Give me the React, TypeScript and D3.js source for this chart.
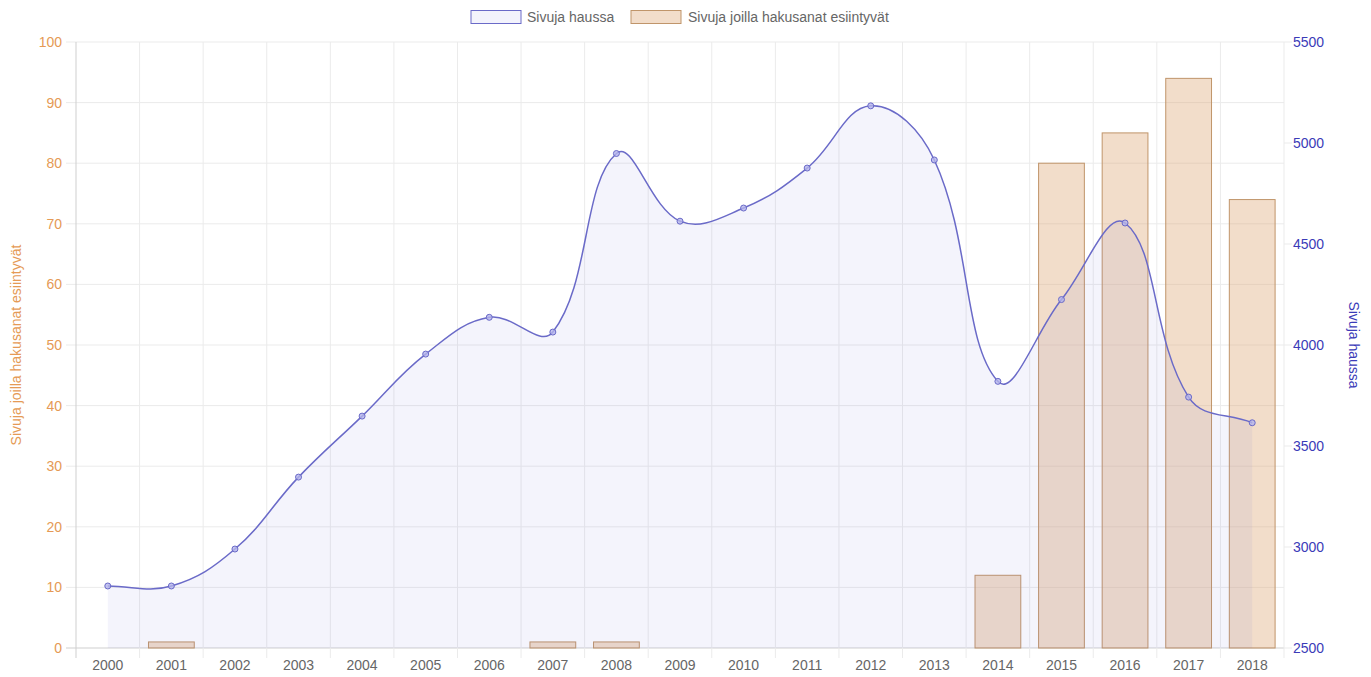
import React from 'react';
import * as d3 from 'd3';

const years = ['2000','2001','2002','2003','2004','2005','2006','2007','2008','2009','2010','2011','2012','2013','2014','2015','2016','2017','2018'];
const pagesInSearch = [2807, 2807, 2990, 3346, 3648, 3955, 4137, 4064, 4948, 4613, 4678, 4876, 5184, 4916, 3820, 4225, 4604, 3742, 3615];
const pagesWithTerms = [0, 1, 0, 0, 0, 0, 0, 1, 1, 0, 0, 0, 0, 0, 12, 80, 85, 94, 74];
const leftTicks = [0, 10, 20, 30, 40, 50, 60, 70, 80, 90, 100];
const rightTicks = [2500, 3000, 3500, 4000, 4500, 5000, 5500];
const lineLabel = 'Sivuja haussa';
const barLabel = 'Sivuja joilla hakusanat esiintyvät';

const W = 1371, H = 677;
const L = 76, R = 1284, T = 42, B = 648;
const FONT = '"Liberation Sans", Arial, Helvetica, sans-serif';
const FS = 14;
const LINE = '#6a6ac8';
const ORANGE_TXT = '#e59a55';
const BLUE_TXT = '#3b3bb8';
const BAR_FILL = 'rgba(222,165,115,0.38)';
const BAR_STROKE = '#c0956a';

function splinePath(pts: [number, number][]) {
  const t = 0.4;
  const cps = pts.map((cur, i) => {
    const prev = pts[i - 1] || cur;
    const next = pts[i + 1] || cur;
    const d01 = Math.hypot(cur[0] - prev[0], cur[1] - prev[1]);
    const d12 = Math.hypot(next[0] - cur[0], next[1] - cur[1]);
    let s01 = d01 / (d01 + d12);
    let s12 = d12 / (d01 + d12);
    if (!isFinite(s01)) s01 = 0;
    if (!isFinite(s12)) s12 = 0;
    const fa = t * s01, fb = t * s12;
    return {
      prev: [cur[0] - fa * (next[0] - prev[0]), cur[1] - fa * (next[1] - prev[1])],
      next: [cur[0] + fb * (next[0] - prev[0]), cur[1] + fb * (next[1] - prev[1])],
    };
  });
  const p = d3.path();
  p.moveTo(pts[0][0], pts[0][1]);
  for (let i = 1; i < pts.length; i++) {
    const a = cps[i - 1].next, b = cps[i].prev;
    p.bezierCurveTo(a[0], Math.min(Math.max(a[1], T), B), b[0], Math.min(Math.max(b[1], T), B), pts[i][0], pts[i][1]);
  }
  return p.toString();
}

export default function App() {
  const x = d3.scaleBand<string>().domain(years).range([L, R]);
  const yL = d3.scaleLinear().domain([0, 100]).range([B, T]);
  const yR = d3.scaleLinear().domain([2500, 5500]).range([B, T]);
  const bw = x.bandwidth();
  const barW = bw * 0.72;

  const pts: [number, number][] = years.map((yr, i) => [x(yr)! + bw / 2, yR(pagesInSearch[i])]);
  const linePath = splinePath(pts);
  const areaPath = linePath + `L${pts[pts.length - 1][0]},${B}L${pts[0][0]},${B}Z`;

  const boundaries = years.map((yr) => x(yr)!).concat([R]);

  return (
    <svg width={W} height={H} style={{ position: 'absolute', left: 0, top: 0 }} fontFamily={FONT}>
      <rect width={W} height={H} fill="#fff" />
      {/* legend */}
      <g fontSize={FS} fill="#666">
        <rect x={471} y={10.5} width={50} height={13} fill="rgba(100,100,215,0.08)" stroke={LINE} strokeWidth={1} />
        <text x={527} y={22}>{lineLabel}</text>
        <rect x={631} y={10.5} width={50} height={13} fill={BAR_FILL} stroke={BAR_STROKE} strokeWidth={1} />
        <text x={688} y={22}>{barLabel}</text>
      </g>
      {/* horizontal grid */}
      {leftTicks.map((v) => (
        <line key={'h' + v} x1={L - 10} x2={R} y1={yL(v)} y2={yL(v)} stroke={v === 0 ? '#cfcfcf' : '#ebebeb'} strokeWidth={1} />
      ))}
      {/* vertical grid */}
      {boundaries.map((bx, i) => (
        <line key={'v' + i} x1={bx} x2={bx} y1={T} y2={B + 10} stroke={i === 0 ? '#cfcfcf' : '#ebebeb'} strokeWidth={1} />
      ))}
      {/* right tick marks */}
      {rightTicks.map((v) => (
        <line key={'rt' + v} x1={R} x2={R + 8} y1={yR(v)} y2={yR(v)} stroke="#ebebeb" strokeWidth={1} />
      ))}
      {/* bars */}
      {years.map((yr, i) => pagesWithTerms[i] > 0 ? (
        <rect key={'b' + yr} x={x(yr)! + (bw - barW) / 2} y={yL(pagesWithTerms[i])} width={barW}
          height={B - yL(pagesWithTerms[i])} fill={BAR_FILL} stroke={BAR_STROKE} strokeWidth={1} />
      ) : null)}
      {/* line area */}
      <path d={areaPath} fill="rgba(100,100,215,0.07)" stroke="none" />
      <path d={linePath} fill="none" stroke={LINE} strokeWidth={1.5} />
      {pts.map((p, i) => (
        <circle key={'p' + i} cx={p[0]} cy={p[1]} r={3} fill="rgba(180,180,235,0.8)" stroke={LINE} strokeWidth={1} />
      ))}
      {/* left axis labels */}
      <g fontSize={FS} fill={ORANGE_TXT} textAnchor="end">
        {leftTicks.map((v) => (
          <text key={'lt' + v} x={L - 14} y={yL(v) + 5}>{v}</text>
        ))}
      </g>
      {/* right axis labels */}
      <g fontSize={FS} fill={BLUE_TXT} textAnchor="start">
        {rightTicks.map((v) => (
          <text key={'rl' + v} x={R + 9} y={yR(v) + 5}>{v}</text>
        ))}
      </g>
      {/* x labels */}
      <g fontSize={FS} fill="#666" textAnchor="middle">
        {years.map((yr) => (
          <text key={'x' + yr} x={x(yr)! + bw / 2} y={B + 22}>{yr}</text>
        ))}
      </g>
      <text transform={`translate(21,${(T + B) / 2}) rotate(-90)`} textAnchor="middle" fontSize={FS} fill={ORANGE_TXT}>{barLabel}</text>
      <text transform={`translate(1349,${(T + B) / 2}) rotate(90)`} textAnchor="middle" fontSize={FS} fill={BLUE_TXT}>{lineLabel}</text>
    </svg>
  );
}
